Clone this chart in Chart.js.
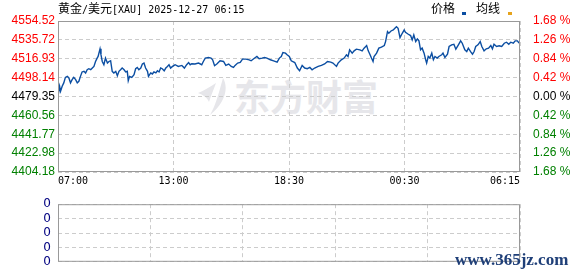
<!DOCTYPE html>
<html>
<head>
<meta charset="utf-8">
<script src="https://cdn.jsdelivr.net/npm/chart.js@4.4.1/dist/chart.umd.min.js"></script>
<style>
  body { margin: 0; background: #fff; width: 578px; height: 276px; overflow: hidden; position: relative; }
  canvas { position: absolute; left: 0; z-index: 1; }
  #priceChart { top: 0; }
  #volChart { top: 190px; }
  .wm { position: absolute; left: 234px; top: 77px; color: #e6e6ea; font: 700 36px/36px "Noto Sans CJK SC", sans-serif; letter-spacing: 0; z-index: 0; }
  .wm-logo { position: absolute; left: 198px; top: 78px; z-index: 0; }
  .site { position: absolute; left: 455px; top: 250px; color: #1f3f78; font: 700 17px/20px "Liberation Serif", serif; z-index: 2; }
  #hdr { position: absolute; left: 58px; top: 1px; font: 10px/14px "DejaVu Sans Mono", monospace; color: #000; z-index: 2; white-space: nowrap; }
  .cjk { font: 12px/14px "Noto Sans CJK SC", sans-serif; }
  .lg { position: absolute; top: 1px; font: 12px/14px "Noto Sans CJK SC", sans-serif; color: #000; z-index: 2; }
  .sq { position: absolute; top: 12px; width: 4px; height: 3px; z-index: 2; }
</style>
</head>
<body>
<div class="wm-logo">
  <svg width="30" height="37" viewBox="0 0 30 37">
    <path d="M25 0 C31 10 27 25 12 37 C18 27 21 14 25 0 Z" fill="#e6e6ea"/>
    <path d="M18 5 C12 9 5 13 0 15 C5 17 9 19 11 24 C13 17 16 11 18 5 Z" fill="#e6e6ea"/>
  </svg>
</div>
<div class="wm">东方财富</div>
<div id="hdr"><span class="cjk">黄金</span>/<span class="cjk">美元</span>[XAU] 2025-12-27 06:15</div>
<div class="lg" style="left:431px">价格</div>
<div class="sq" style="left:462px;background:#0b4ea2"></div>
<div class="lg" style="left:476px">均线</div>
<div class="sq" style="left:508px;background:#e6a31c"></div>
<div class="site">www.365jz.com</div>
<canvas id="priceChart" width="578" height="190"></canvas>
<canvas id="volChart" width="578" height="86"></canvas>
<script>
// session minute index (0 = 07:00 open) and price of XAU/USD
const sessionIdx = [
  0,5,8,13,18,23,29,34,39,44,49,55,60,65,70,75,81,86,91,96,102,107,112,117,122,125,131,134,138,143,
  148,154,159,164,169,174,180,185,190,195,200,206,211,216,219,223,230,237,242,247,252,258,263,268,273,279,282,289,294,299,
  305,310,315,320,325,331,336,341,346,351,357,362,
  365,375,386,394,401,407,412,417,427,438,448,453,459,469,477,482,488,495,505,516,523,532,540,547,552,560,568,575,586,596,
  602,610,620,627,636,644,651,662,672,683,690,696,701,709,714,721,
  727,738,746,753,761,769,777,785,792,800,811,821,831,840,850,857,868,873,883,892,899,904,909,917,923,930,941,948,954,962,
  967,972,977,982,985,993,1000,1008,1017,1021,1024,1027,1031,1038,1045,1050,1055,1060,1066,1073,1079,
  1083,1092,1099,1104,1109,1115,1120,1125,1130,1135,1141,1146,1149,1154,1159,1165,1170,1175,1182,1187,
  1196,1200,1206,1214,1219,1227,1234,1240,1248,1255,1260,1268,1274,1279,1286,1292,1297,1302,1309,1316,
  1321,1328,1335,1342,1349,1354,1359,1367,1375,1383,1391,1398,1405,1411,1419,1425,1432,1437
];
const prices = [
  4479.6,4489.5,4484.6,4489.5,4492.9,4498.4,4499.4,4497.8,4492.9,4496.1,4498.4,4496.1,4492.9,4494.5,4499.4,4503.8,4504.4,4502.8,4506.0,4507.0,
  4506.0,4507.7,4509.3,4514.2,4517.6,4519.2,4526.8,4520.9,4514.2,4511.0,4517.6,4512.6,4514.2,4515.0,4504.4,4502.8,4504.4,4500.1,4504.4,4506.0,
  4507.7,4506.0,4503.8,4504.4,4495.1,4499.4,4498.4,4501.1,4507.0,4508.3,4506.0,4507.7,4511.7,4512.6,4507.7,4504.4,4499.4,4502.8,4501.8,4503.8,
  4502.8,4505.0,4503.8,4507.7,4507.0,4505.0,4507.7,4509.3,4511.0,4507.7,4509.3,4510.3,
  4511.0,4509.3,4510.3,4507.7,4511.0,4513.2,4511.0,4512.0,4511.7,4512.6,4511.0,4514.2,4517.6,4518.2,4517.6,4515.9,4510.0,4511.7,4514.9,4514.2,
  4510.3,4511.7,4509.3,4508.3,4510.3,4512.6,4513.2,4516.6,4516.6,4515.9,4514.9,4516.9,4519.2,4516.9,4517.5,4518.2,4517.6,4515.9,4514.9,4513.6,
  4517.6,4519.2,4523.1,4522.5,4520.9,4519.2,
  4514.9,4513.2,4507.7,4505.0,4510.3,4507.7,4507.0,4508.3,4506.0,4507.7,4509.3,4510.3,4511.7,4514.2,4513.6,4512.6,4509.3,4512.6,4515.9,4517.6,
  4520.9,4519.2,4525.8,4522.5,4524.8,4526.5,4525.8,4524.8,4527.5,4530.1,4524.8,4521.5,4517.6,4514.2,4519.2,4522.5,4527.5,4528.5,4530.1,4534.0,
  4539.0,4543.9,4542.3,4544.6,4545.6,4547.3,4548.9,4547.3,4538.0,4542.3,4545.6,
  4543.3,4541.3,4540.0,4535.7,4540.6,4534.0,4536.7,4534.7,4525.8,4527.5,4522.5,4515.9,4512.6,4519.2,4517.6,4522.5,4515.9,4519.2,4517.6,4519.2,
  4520.9,4522.5,4518.2,4521.5,4529.1,4530.8,4531.4,4526.5,4530.8,4534.7,4532.4,4525.8,4524.1,4527.5,4524.1,4521.5,4524.1,4529.1,4530.8,4534.0,
  4529.1,4524.8,4526.8,4527.5,4530.1,4526.8,4531.4,4529.1,4529.8,4529.1,4532.4,4533.4,4531.4,4533.4,4532.4,4534.7,4534.7,4532.4
];
const basePrice = 4479.35;
const priceTicks = [4554.52, 4535.72, 4516.93, 4498.14, 4479.35, 4460.56, 4441.77, 4422.98, 4404.18];
const pctLabels = ['1.68 %', '1.26 %', '0.84 %', '0.42 %', '0.00 %', '0.42 %', '0.84 %', '1.26 %', '1.68 %'];
const timeTicks = [0, 360, 720, 1080, 1440];
const timeLabels = ['07:00', '13:00', '18:30', '00:30', '06:15'];
const volume = [];
const volTicks = [0, 1, 2, 3, 4];
const volLabels = ['0', '0', '0', '0', '0'];

const RED = '#ff0000', GREEN = '#008000', LINE = '#0b4ea2';

function tickColor(ctx) {
    const v = ctx.tick ? ctx.tick.value : basePrice;
    if (v > basePrice + 0.001) return RED;
    if (v < basePrice - 0.001) return GREEN;
    return '#000';
}

// solid frame round the plot area
const framePlugin = {
    id: 'frame',
    afterDraw(chart) {
        const a = chart.chartArea, ctx = chart.ctx;
        ctx.save();
        ctx.strokeStyle = '#999';
        ctx.lineWidth = 1;
        ctx.strokeRect(a.left + 0.5, a.top + 0.5, a.right - a.left - 1, a.bottom - a.top - 1);
        ctx.restore();
    }
};

const gridDash = { color: '#cccccc', lineWidth: 1, drawTicks: false };

new Chart(document.getElementById('priceChart'), {
    type: 'line',
    data: {
        datasets: [{
            label: '价格',
            data: sessionIdx.map((m, i) => ({ x: m, y: prices[i] })),
            borderColor: LINE,
            borderWidth: 1.4,
            pointRadius: 0,
            tension: 0,
            fill: false
        }]
    },
    options: {
        responsive: false,
        animation: false,
        layout: { padding: { top: 21, bottom: 0, left: 0, right: 0 } },
        plugins: { legend: { display: false }, tooltip: { enabled: false } },
        scales: {
            x: {
                type: 'linear', min: 0, max: 1440,
                afterBuildTicks: s => { s.ticks = timeTicks.map(v => ({ value: v })); },
                afterFit: s => { s.height = 18; },
                grid: gridDash,
                border: { display: false, dash: [4, 3] },
                ticks: {
                    autoSkip: false, maxRotation: 0, align: 'inner', padding: 3,
                    color: '#000', font: { family: 'DejaVu Sans Mono', size: 10 },
                    callback: (v, i) => timeLabels[i]
                }
            },
            y: {
                position: 'left', min: 4404.18, max: 4554.52,
                afterBuildTicks: s => { s.ticks = priceTicks.map(v => ({ value: v })); },
                afterFit: s => { s.width = 58; },
                grid: gridDash,
                border: { display: false, dash: [4, 3] },
                ticks: {
                    autoSkip: false, padding: 3, color: tickColor,
                    font: { family: 'Liberation Sans', size: 12 },
                    callback: (v, i) => priceTicks[i].toFixed(2)
                }
            },
            y2: {
                position: 'right', min: 4404.18, max: 4554.52,
                afterBuildTicks: s => { s.ticks = priceTicks.map(v => ({ value: v })); },
                afterFit: s => { s.width = 58; },
                grid: { display: false },
                border: { display: false },
                ticks: {
                    autoSkip: false, padding: 5, color: tickColor,
                    font: { family: 'Liberation Sans', size: 12 },
                    callback: (v, i) => pctLabels[i]
                }
            }
        }
    },
    plugins: [framePlugin]
});

new Chart(document.getElementById('volChart'), {
    type: 'bar',
    data: { datasets: [{ label: '成交量', data: volume, backgroundColor: LINE }] },
    options: {
        responsive: false,
        animation: false,
        layout: { padding: { top: 6, bottom: 6, left: 0, right: 58 } },
        plugins: { legend: { display: false }, tooltip: { enabled: false } },
        scales: {
            x: {
                type: 'linear', min: 0, max: 1440,
                afterBuildTicks: s => { s.ticks = timeTicks.map(v => ({ value: v })); },
                afterFit: s => { s.height = 0; },
                grid: gridDash,
                border: { display: false, dash: [4, 3] },
                ticks: { display: false }
            },
            y: {
                min: 0, max: 4, reverse: true,
                afterBuildTicks: s => { s.ticks = volTicks.map(v => ({ value: v })); },
                afterFit: s => { s.width = 58; },
                grid: gridDash,
                border: { display: false, dash: [4, 3] },
                ticks: {
                    autoSkip: false, padding: 7, color: '#000080',
                    font: { family: 'DejaVu Sans', size: 12 },
                    callback: (v, i) => volLabels[i]
                }
            }
        }
    },
    plugins: [framePlugin]
});
</script>
</body>
</html>
